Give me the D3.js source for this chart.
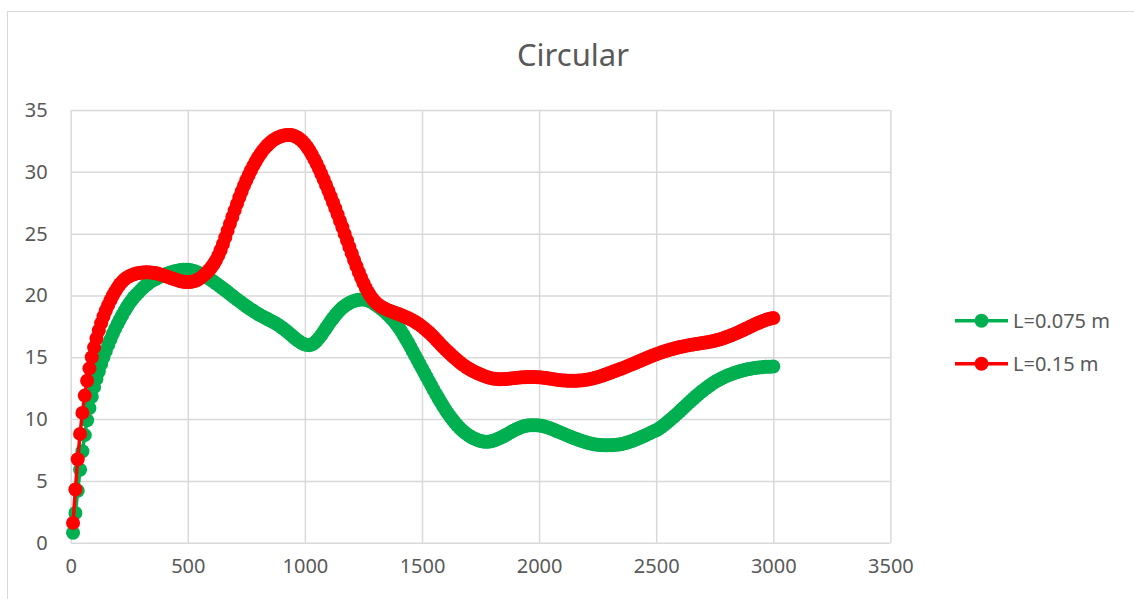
<!DOCTYPE html>
<html lang="en">

<head>
    <meta charset="UTF-8">
    <title>Circular</title>
    <style>
        body {
            padding: 0;
            margin: 0;
            width: 1134px;
            height: 599px;
            overflow: hidden;
            background: #fff;
        }
        text {
            font-family: "Noto Sans", "Open Sans", sans-serif;
            fill: #595959;
        }
    </style>
</head>

<body>
    <script src="https://d3js.org/d3.v7.min.js"></script>
    <script>
        // x positions of the samples
        const xValues = [
            10, 20, 30, 40, 50, 60, 70, 80, 90, 100,
            110, 120, 130, 140, 150, 160, 170, 180, 190, 200,
            210, 220, 230, 240, 250, 260, 270, 280, 290, 300,
            310, 320, 330, 340, 350, 360, 370, 380, 390, 400,
            410, 420, 430, 440, 450, 460, 470, 480, 490, 500,
            510, 520, 530, 540, 550, 560, 570, 580, 590, 600,
            610, 620, 630, 640, 650, 660, 670, 680, 690, 700,
            710, 720, 730, 740, 750, 760, 770, 780, 790, 800,
            810, 820, 830, 840, 850, 860, 870, 880, 890, 900,
            910, 920, 930, 940, 950, 960, 970, 980, 990, 1000,
            1010, 1020, 1030, 1040, 1050, 1060, 1070, 1080, 1090, 1100,
            1110, 1120, 1130, 1140, 1150, 1160, 1170, 1180, 1190, 1200,
            1210, 1220, 1230, 1240, 1250, 1260, 1270, 1280, 1290, 1300,
            1310, 1320, 1330, 1340, 1350, 1360, 1370, 1380, 1390, 1400,
            1410, 1420, 1430, 1440, 1450, 1460, 1470, 1480, 1490, 1500,
            1510, 1520, 1530, 1540, 1550, 1560, 1570, 1580, 1590, 1600,
            1610, 1620, 1630, 1640, 1650, 1660, 1670, 1680, 1690, 1700,
            1710, 1720, 1730, 1740, 1750, 1760, 1770, 1780, 1790, 1800,
            1810, 1820, 1830, 1840, 1850, 1860, 1870, 1880, 1890, 1900,
            1910, 1920, 1930, 1940, 1950, 1960, 1970, 1980, 1990, 2000,
            2010, 2020, 2030, 2040, 2050, 2060, 2070, 2080, 2090, 2100,
            2110, 2120, 2130, 2140, 2150, 2160, 2170, 2180, 2190, 2200,
            2210, 2220, 2230, 2240, 2250, 2260, 2270, 2280, 2290, 2300,
            2310, 2320, 2330, 2340, 2350, 2360, 2370, 2380, 2390, 2400,
            2410, 2420, 2430, 2440, 2450, 2460, 2470, 2480, 2490, 2500,
            2510, 2520, 2530, 2540, 2550, 2560, 2570, 2580, 2590, 2600,
            2610, 2620, 2630, 2640, 2650, 2660, 2670, 2680, 2690, 2700,
            2710, 2720, 2730, 2740, 2750, 2760, 2770, 2780, 2790, 2800,
            2810, 2820, 2830, 2840, 2850, 2860, 2870, 2880, 2890, 2900,
            2910, 2920, 2930, 2940, 2950, 2960, 2970, 2980, 2990, 3000
        ];

        // L=0.075 m
        const shortValues = [
            0.8, 2.4, 4.2, 5.9, 7.4, 8.7, 9.9, 10.9, 11.8, 12.6,
            13.25, 13.85, 14.45, 15.0, 15.5, 16.0, 16.45, 16.9, 17.3, 17.7,
            18.05, 18.4, 18.75, 19.05, 19.35, 19.6, 19.85, 20.05, 20.25, 20.45,
            20.65, 20.8, 20.95, 21.1, 21.2, 21.3, 21.4, 21.5, 21.6, 21.68,
            21.75, 21.82, 21.88, 21.93, 21.98, 22.02, 22.05, 22.07, 22.08, 22.07,
            22.05, 22.0, 21.95, 21.88, 21.8, 21.7, 21.6, 21.48, 21.37, 21.25,
            21.12, 20.98, 20.84, 20.7, 20.56, 20.42, 20.27, 20.12, 19.97, 19.82,
            19.68, 19.54, 19.4, 19.26, 19.12, 18.99, 18.86, 18.74, 18.62, 18.5,
            18.39, 18.29, 18.19, 18.09, 17.99, 17.89, 17.79, 17.68, 17.56, 17.43,
            17.29, 17.14, 16.98, 16.82, 16.66, 16.5, 16.35, 16.22, 16.11, 16.03,
            15.99, 15.98, 16.03, 16.15, 16.33, 16.55, 16.8, 17.07, 17.35, 17.63,
            17.9, 18.16, 18.4, 18.62, 18.82, 19.0, 19.15, 19.28, 19.39, 19.48,
            19.55, 19.61, 19.65, 19.67, 19.67, 19.64, 19.58, 19.5, 19.4, 19.27,
            19.14, 19.0, 18.85, 18.69, 18.52, 18.34, 18.14, 17.92, 17.68, 17.42,
            17.14, 16.84, 16.52, 16.19, 15.85, 15.5, 15.15, 14.8, 14.45, 14.1,
            13.75, 13.4, 13.05, 12.7, 12.36, 12.02, 11.69, 11.37, 11.06, 10.76,
            10.48, 10.21, 9.96, 9.72, 9.5, 9.3, 9.12, 8.95, 8.8, 8.67,
            8.55, 8.45, 8.36, 8.29, 8.23, 8.19, 8.17, 8.17, 8.19, 8.23,
            8.29, 8.36, 8.44, 8.53, 8.63, 8.73, 8.84, 8.95, 9.05, 9.15,
            9.24, 9.32, 9.39, 9.44, 9.48, 9.5, 9.51, 9.51, 9.5, 9.48,
            9.45, 9.41, 9.36, 9.3, 9.23, 9.16, 9.08, 9.0, 8.92, 8.84,
            8.76, 8.68, 8.6, 8.52, 8.45, 8.38, 8.31, 8.24, 8.18, 8.12,
            8.07, 8.02, 7.98, 7.95, 7.92, 7.9, 7.89, 7.88, 7.88, 7.88,
            7.89, 7.9, 7.92, 7.94, 7.97, 8.01, 8.06, 8.12, 8.18, 8.25,
            8.32, 8.4, 8.48, 8.56, 8.65, 8.74, 8.83, 8.92, 9.01, 9.1,
            9.2, 9.33, 9.47, 9.62, 9.78, 9.94, 10.1, 10.27, 10.44, 10.61,
            10.79, 10.97, 11.15, 11.33, 11.5, 11.67, 11.84, 12.0, 12.16, 12.31,
            12.46, 12.6, 12.74, 12.87, 12.99, 13.1, 13.2, 13.3, 13.39, 13.48,
            13.56, 13.63, 13.7, 13.77, 13.83, 13.88, 13.93, 13.98, 14.02, 14.06,
            14.1, 14.13, 14.16, 14.18, 14.2, 14.22, 14.23, 14.24, 14.24, 14.25
        ];

        // L=0.15 m
        const longValues = [
            1.6, 4.3, 6.75, 8.8, 10.5, 11.9, 13.1, 14.1, 15.0, 15.8,
            16.52, 17.17, 17.76, 18.3, 18.78, 19.22, 19.62, 19.99, 20.33, 20.63,
            20.9, 21.12, 21.3, 21.44, 21.55, 21.64, 21.71, 21.77, 21.81, 21.84,
            21.86, 21.87, 21.87, 21.86, 21.84, 21.81, 21.77, 21.72, 21.66, 21.6,
            21.53, 21.46, 21.39, 21.32, 21.26, 21.2, 21.15, 21.11, 21.09, 21.08,
            21.09, 21.12, 21.17, 21.25, 21.36, 21.5, 21.66, 21.84, 22.04, 22.26,
            22.52, 22.84, 23.22, 23.66, 24.16, 24.69, 25.24, 25.79, 26.34, 26.88,
            27.41, 27.92, 28.41, 28.88, 29.32, 29.74, 30.13, 30.5, 30.84, 31.16,
            31.45, 31.71, 31.94, 32.15, 32.33, 32.49, 32.62, 32.73, 32.82, 32.89,
            32.94, 32.97, 32.98, 32.97, 32.93, 32.86, 32.76, 32.62, 32.45, 32.24,
            31.99, 31.7, 31.38, 31.03, 30.65, 30.25, 29.83, 29.39, 28.94, 28.48,
            28.01, 27.53, 27.04, 26.54, 26.03, 25.51, 24.98, 24.45, 23.92, 23.39,
            22.87, 22.37, 21.89, 21.43, 21.0, 20.61, 20.26, 19.95, 19.69, 19.48,
            19.3, 19.16, 19.04, 18.94, 18.85, 18.77, 18.7, 18.63, 18.56, 18.49,
            18.42, 18.34, 18.26, 18.17, 18.08, 17.98, 17.87, 17.75, 17.62, 17.48,
            17.33, 17.17, 17.0, 16.82, 16.63, 16.43, 16.23, 16.02, 15.83, 15.64,
            15.46, 15.28, 15.1, 14.93, 14.77, 14.61, 14.46, 14.32, 14.19, 14.07,
            13.96, 13.86, 13.77, 13.68, 13.6, 13.52, 13.45, 13.39, 13.33, 13.29,
            13.26, 13.24, 13.23, 13.23, 13.24, 13.25, 13.27, 13.29, 13.31, 13.33,
            13.35, 13.37, 13.38, 13.39, 13.4, 13.4, 13.4, 13.4, 13.39, 13.38,
            13.36, 13.34, 13.32, 13.29, 13.26, 13.23, 13.2, 13.17, 13.15, 13.13,
            13.11, 13.1, 13.09, 13.09, 13.09, 13.1, 13.11, 13.13, 13.15, 13.18,
            13.21, 13.25, 13.29, 13.34, 13.39, 13.45, 13.51, 13.58, 13.65, 13.72,
            13.79, 13.86, 13.93, 14.0, 14.07, 14.14, 14.22, 14.3, 14.38, 14.46,
            14.54, 14.62, 14.7, 14.78, 14.86, 14.94, 15.02, 15.1, 15.17, 15.24,
            15.31, 15.38, 15.44, 15.5, 15.56, 15.62, 15.67, 15.72, 15.77, 15.82,
            15.86, 15.9, 15.94, 15.98, 16.01, 16.04, 16.07, 16.1, 16.13, 16.16,
            16.19, 16.22, 16.26, 16.3, 16.34, 16.39, 16.44, 16.5, 16.56, 16.63,
            16.7, 16.77, 16.85, 16.93, 17.01, 17.1, 17.19, 17.28, 17.37, 17.46,
            17.55, 17.64, 17.73, 17.81, 17.89, 17.96, 18.03, 18.09, 18.14, 18.18
        ];

        const seriesNames = ['L=0.075 m', 'L=0.15 m'];
        const seriesColors = ['#00B050', '#FF0000'];
        const xTicks = [0, 500, 1000, 1500, 2000, 2500, 3000, 3500];
        const yTicks = [0, 5, 10, 15, 20, 25, 30, 35];

        const width = 1134;
        const height = 599;
        const plot = { left: 70.7, right: 890.4, top: 110, bottom: 542.7 };

        const svg = d3.select('body')
            .append('svg')
            .attr('width', width)
            .attr('height', height);

        // chart frame
        svg.append('rect')
            .attr('x', 7.5)
            .attr('y', 11.5)
            .attr('width', 1200)
            .attr('height', 700)
            .attr('fill', '#fff')
            .attr('stroke', '#d9d9d9')
            .attr('stroke-width', 1);

        const x = d3.scaleLinear().domain([0, 3500]).range([plot.left, plot.right]);
        const y = d3.scaleLinear().domain([0, 35]).range([plot.bottom, plot.top]);

        // grid + axes
        const gx = svg.append('g')
            .attr('transform', `translate(0,${plot.bottom})`)
            .call(d3.axisBottom(x).tickValues(xTicks).tickFormat(d3.format('d'))
                .tickSize(-(plot.bottom - plot.top)).tickPadding(16));
        const gy = svg.append('g')
            .attr('transform', `translate(${plot.left},0)`)
            .call(d3.axisLeft(y).tickValues(yTicks).tickFormat(d3.format('d'))
                .tickSize(-(plot.right - plot.left)).tickPadding(23));

        [gx, gy].forEach(g => {
            g.select('.domain').remove();
            g.selectAll('line').attr('stroke', '#d9d9d9').attr('stroke-width', 1.5);
            g.selectAll('text')
                .attr('font-size', 20)
                .style('font-family', '"Noto Sans", "Open Sans", sans-serif')
                .attr('fill', '#595959');
        });

        // title
        svg.append('text')
            .attr('x', 573)
            .attr('y', 66)
            .attr('text-anchor', 'middle')
            .attr('font-size', 31)
            .text('Circular');

        // series
        const line = d3.line()
            .x(d => x(d[0]))
            .y(d => y(d[1]))
            .curve(d3.curveCatmullRom);

        [shortValues, longValues].forEach((vals, i) => {
            const pts = xValues.map((xv, j) => [xv, vals[j]]);
            const g = svg.append('g').attr('class', 'series');
            g.append('path')
                .datum(pts)
                .attr('d', line)
                .attr('fill', 'none')
                .attr('stroke', seriesColors[i])
                .attr('stroke-width', 3.5);
            g.selectAll('circle')
                .data(pts)
                .join('circle')
                .attr('cx', d => x(d[0]))
                .attr('cy', d => y(d[1]))
                .attr('r', 7)
                .attr('fill', seriesColors[i]);
        });

        // legend
        const legend = svg.append('g').attr('class', 'legend');
        const item = legend.selectAll('g')
            .data(seriesNames)
            .join('g')
            .attr('transform', (d, i) => `translate(955,${320.7 + i * 43})`);
        item.append('line')
            .attr('x1', 0).attr('x2', 53)
            .attr('stroke', (d, i) => seriesColors[i])
            .attr('stroke-width', 3.5);
        item.append('circle')
            .attr('cx', 26.5)
            .attr('r', 7)
            .attr('fill', (d, i) => seriesColors[i]);
        item.append('text')
            .attr('x', 58)
            .attr('dy', '0.35em')
            .attr('font-size', 20)
            .text(d => d);
    </script>
</body>

</html>
